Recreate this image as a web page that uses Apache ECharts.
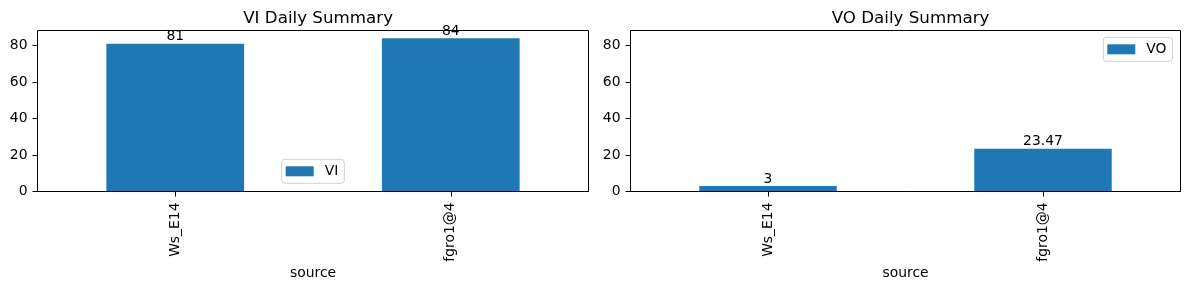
<!DOCTYPE html>
<html>
<head>
<meta charset="utf-8">
<script src="https://cdn.jsdelivr.net/npm/echarts@6/dist/echarts.min.js"></script>
<style>
  html, body { margin: 0; padding: 0; background: #fff; }
  #chart { width: 1189px; height: 290px; }
</style>
</head>
<body>
<div id="chart"></div>
<script>
const categories = ['Ws_E14', 'fgro1@4'];
const viValues = [81, 84];
const voValues = [3, 23.47];
const yTicks = [0, 20, 40, 60, 80];
const titles = ['VI Daily Summary', 'VO Daily Summary'];
const seriesNames = ['VI', 'VO'];
const xLabelName = 'source';

const FONT = 'DejaVu Sans';
const BLUE = '#1f77b4';
const FS = 13.9;

const grids = [
  { left: 37.5, right: 600.5, top: 30.5, bottom: 98.5 },
  { left: 630.5, right: 8.5, top: 30.5, bottom: 98.5 }
];

function xAxis(i) {
  return {
    type: 'category', gridIndex: i, data: categories, z: 5,
    boundaryGap: true,
    axisLine: { show: true, lineStyle: { color: '#000', width: 1 } },
    axisTick: { show: true, alignWithLabel: true, length: 5, lineStyle: { color: '#000', width: 1 } },
    axisLabel: { rotate: 90, margin: 11, color: '#000', fontFamily: FONT, fontSize: FS },
    name: xLabelName, nameLocation: 'middle', nameGap: 75, nameMoveOverlap: false,
    nameTextStyle: { color: '#000', fontFamily: FONT, fontSize: FS },
    splitLine: { show: false }
  };
}
function yAxis(i) {
  return {
    type: 'value', gridIndex: i, min: 0, max: 88.2,
    axisLine: { show: false },
    axisTick: { show: true, length: 5, customValues: yTicks, lineStyle: { color: '#000', width: 1 } },
    axisLabel: { margin: 10, customValues: yTicks, color: '#000', fontFamily: FONT, fontSize: FS },
    splitLine: { show: false }
  };
}
function series(i, name, vals) {
  return {
    type: 'bar', name: name, xAxisIndex: i, yAxisIndex: i,
    data: vals, barWidth: '50%',
    itemStyle: { color: BLUE },
    label: { show: true, position: 'top', distance: 0, color: '#000', fontFamily: FONT, fontSize: FS,
      formatter: p => String(p.value) }
  };
}
function legend(name, left, top) {
  return {
    data: [name], left: left, top: top, orient: 'vertical',
    icon: 'rect', itemWidth: 28, itemHeight: 10,
    padding: [5, 6, 5, 4],
    backgroundColor: 'rgba(255,255,255,0.8)',
    borderColor: '#d0d0d0', borderWidth: 1, borderRadius: 3,
    textStyle: { color: '#000', fontFamily: FONT, fontSize: FS, padding: [0, 0, 0, 6] }
  };
}

const chart = echarts.init(document.getElementById('chart'), null, { renderer: 'canvas' });
chart.setOption({
  animation: false,
  backgroundColor: '#fff',
  textStyle: { fontFamily: FONT },
  title: [
    { text: titles[0], left: 313.1, top: 5, textAlign: 'center',
      textStyle: { fontFamily: FONT, fontSize: 16.7, fontWeight: 'normal', color: '#000' } },
    { text: titles[1], left: 905.5, top: 5, textAlign: 'center',
      textStyle: { fontFamily: FONT, fontSize: 16.7, fontWeight: 'normal', color: '#000' } }
  ],
  grid: grids.map(g => Object.assign({ show: true, borderColor: '#000', borderWidth: 1, backgroundColor: 'transparent', containLabel: false }, g)),
  legend: [legend(seriesNames[0], 281.7, 159.3), legend(seriesNames[1], 1103.3, 37.3)],
  xAxis: [xAxis(0), xAxis(1)],
  yAxis: [yAxis(0), yAxis(1)],
  series: [series(0, seriesNames[0], viValues), series(1, seriesNames[1], voValues)]
});
</script>
</body>
</html>
